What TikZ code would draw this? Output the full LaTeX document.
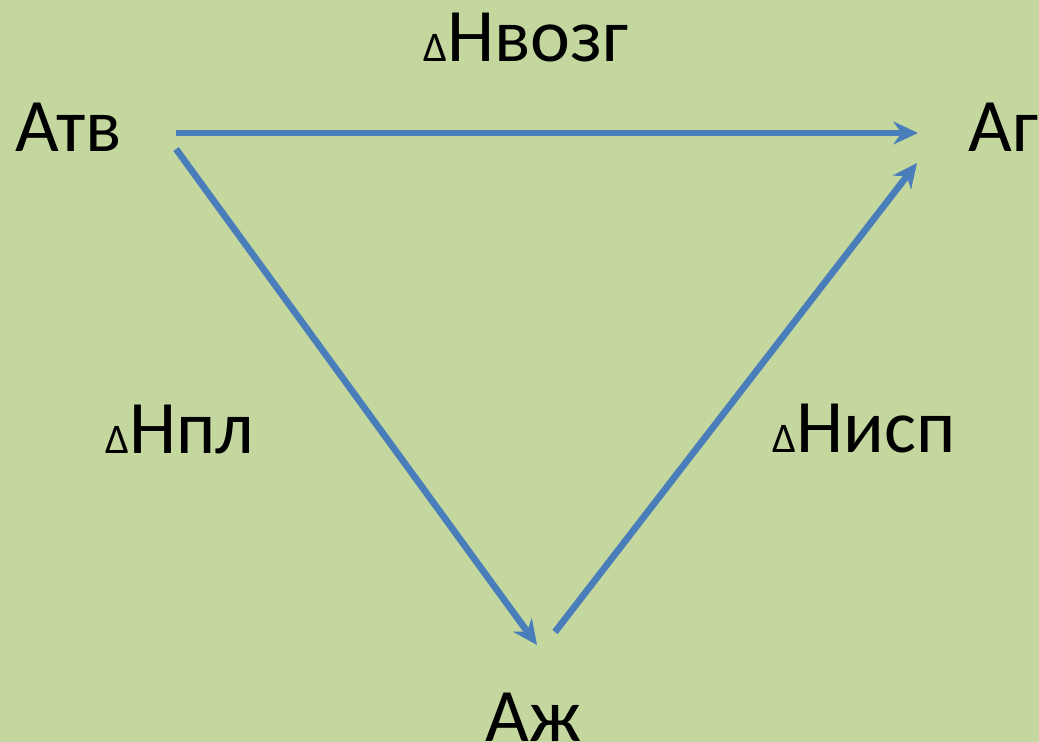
\documentclass[tikz,border=0pt]{standalone}
\usepackage{fontspec}
\setmainfont{Carlito}
\usepackage{xcolor}
\usetikzlibrary{arrows.meta}
\usetikzlibrary{math}
\definecolor{mygreen}{RGB}{196, 215, 158}
\definecolor{myblue}{RGB}{74, 126, 187}

\tikzset{
  state/.style={anchor=base west, inner sep=0pt, font=\fontsize{43}{50}\selectfont},
  enthalpy/.style={anchor=base west, inner sep=0pt, font=\fontsize{43}{50}\selectfont},
  path/.style={line width=3.8pt, color=myblue, -{Stealth[length=14pt, width=13pt, inset=4.5pt]}}
}
\newcommand{\dlt}{{\fontsize{24}{26}\selectfont Δ}}

\begin{document}
\begin{tikzpicture}[x=0.02cm, y=0.02cm]
\tikzmath{
\W=1039;
\Ht=742;
}
\fill[mygreen] (0,0) rectangle (\W,\Ht);
\useasboundingbox (0,0) rectangle (\W,\Ht);

% states
\node[state] (Atv) at (15,590) {Атв};
\node[state] (Ag) at (968,590) {Аг};
\node[state] (Azh) at (485,0) {Аж};

% arrow ends
\coordinate (tv-top) at (176,609);
\coordinate (g-left) at (918,609);
\coordinate (tv-low) at (176,593);
\coordinate (zh-in) at (537,97);
\coordinate (zh-out) at (555,110);
\coordinate (g-low) at (917,579);

\draw[path] (tv-top) -- (g-left);
\draw[path] (tv-low) -- (zh-in);
\draw[path] (zh-out) -- (g-low);

% enthalpies
\node[enthalpy] (Hvozg) at (423,680) {\dlt Нвозг};
\node[enthalpy] (Hpl) at (105,288) {\dlt Нпл};
\node[enthalpy] (Hisp) at (772,289) {\dlt Нисп};
\end{tikzpicture}
\end{document}
